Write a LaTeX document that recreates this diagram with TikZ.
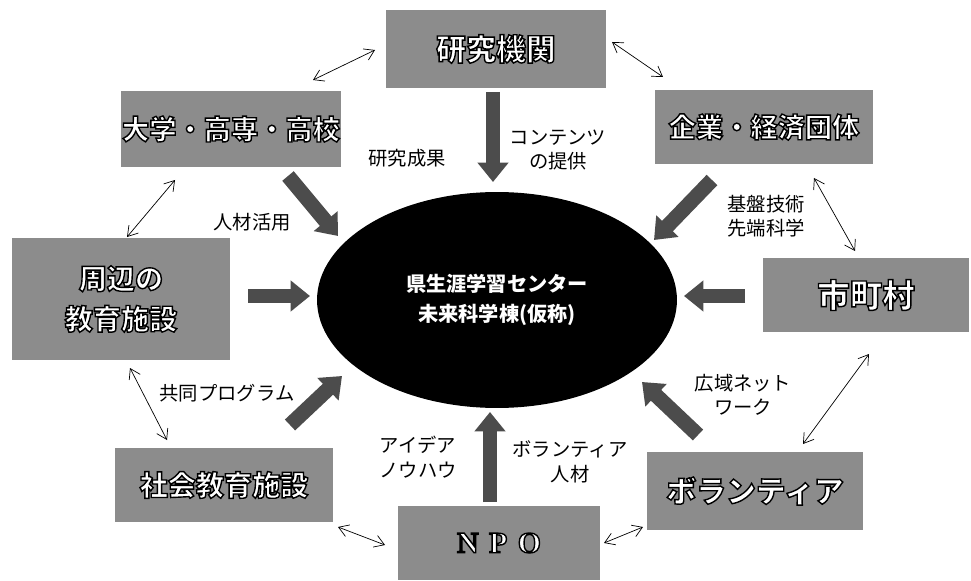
\documentclass[tikz,border=0pt]{standalone}
\usepackage{fontspec}
\setmainfont{Noto Sans CJK JP}
\newfontfamily\npofont{Liberation Serif}
\usetikzlibrary{arrows.meta,shapes.geometric}

% white letters with a black rim (fill + stroke text mode)
\newcommand{\hollow}[1]{\special{pdf:code q 2 Tr 0.8 w 1 g 0 G}#1\special{pdf:code Q}}

\begin{document}
\begin{tikzpicture}[x=0.02cm, y=-0.02cm,
  box/.style={fill=black!45, inner sep=0pt, align=center,
    font=\bfseries\fontsize{15.5}{21}\selectfont},
  hub/.style={ellipse, fill=black, text=white, inner sep=0pt, align=center,
    minimum width=7.2cm, minimum height=4.32cm,
    font=\bfseries\fontsize{11.5}{17}\selectfont},
  fat/.style={line width=8.5pt, draw=black!70,
    -{Triangle[length=11pt,width=17pt]}},
  link/.style={thin, {Straight Barb[length=5.5pt,width=7pt]}-{Straight Barb[length=5.5pt,width=7pt]}},
  lbl/.style={font=\fontsize{11}{14}\selectfont, align=center}]
  \useasboundingbox (0,0) rectangle (971,581);

  % the centre
  \node[hub] (hub) at (497,300) {県生涯学習センター\\未来科学棟(仮称)};

  % partners
  \node[box, minimum width=4.42cm, minimum height=1.56cm, font=\bfseries\fontsize{17}{21}\selectfont] (kenkyu) at (496,49) {\hollow{研究機関}};
  \node[box, minimum width=4.4cm, minimum height=1.54cm] (daigaku) at (231,129) {\hollow{大学・高専・高校}};
  \node[box, minimum width=4.36cm, minimum height=1.5cm] (kigyo) at (764,127) {\hollow{企業・経済団体}};
  \node[box, minimum width=4.36cm, minimum height=2.44cm, font=\bfseries\fontsize{16}{23}\selectfont] (shuhen) at (121,299) {\hollow{周辺の}\\\hollow{教育施設}};
  \node[box, minimum width=4.12cm, minimum height=1.48cm, font=\bfseries\fontsize{18.5}{21}\selectfont] (shichoson) at (866,295) {\hollow{市町村}};
  \node[box, minimum width=4.36cm, minimum height=1.5cm, font=\bfseries\fontsize{16}{21}\selectfont] (shakai) at (224,485) {\hollow{社会教育施設}};
  \node[box, minimum width=4.04cm, minimum height=1.48cm, font=\npofont\bfseries\fontsize{17}{21}\selectfont] (npo) at (499,543) {\hollow{N\hspace{0.35em}P\hspace{0.35em}O}};
  \node[box, minimum width=4.32cm, minimum height=1.56cm, font=\bfseries\fontsize{17}{21}\selectfont] (volunteer) at (755,491) {\hollow{ボランティア}};

  % fat arrows into the centre
  \coordinate (kenkyu-s) at (493,92);    \coordinate (kenkyu-e) at (493,182);
  \coordinate (daigaku-s) at (288,176);  \coordinate (daigaku-e) at (338,236);
  \coordinate (kigyo-s) at (712,180);    \coordinate (kigyo-e) at (654,240);
  \coordinate (shuhen-s) at (248,296);   \coordinate (shuhen-e) at (310,296);
  \coordinate (shichoson-s) at (745,296); \coordinate (shichoson-e) at (684,296);
  \coordinate (shakai-s) at (290,425);   \coordinate (shakai-e) at (342,376);
  \coordinate (npo-s) at (490,502);      \coordinate (npo-e) at (490,412);
  \coordinate (volunteer-s) at (698,435); \coordinate (volunteer-e) at (642,382);
  \foreach \n in {kenkyu,daigaku,kigyo,shuhen,shichoson,shakai,npo,volunteer}
    \draw[fat] (\n-s) -- (\n-e);

  % labels
  \node[lbl] (l1) at (407,158) {研究成果};
  \node[lbl] (l2) at (558,150) {コンテンツ\\の提供};
  \node[lbl] (l3) at (252,222) {人材活用};
  \node[lbl] (l4) at (766,216) {基盤技術\\先端科学};
  \node[lbl] (l5) at (227,393) {共同プログラム};
  \node[lbl] (l6) at (743,395) {広域ネット\\ワーク};
  \node[lbl] (l7) at (418,457) {アイデア\\ノウハウ};
  \node[lbl] (l8) at (570,462) {ボランティア\\人材};

  % links between partners
  \coordinate (a1) at (313,80);  \coordinate (a2) at (375,50);
  \coordinate (b1) at (612,42);  \coordinate (b2) at (663,77);
  \coordinate (c1) at (175,180); \coordinate (c2) at (127,237);
  \coordinate (d1) at (814,178); \coordinate (d2) at (855,251);
  \coordinate (e1) at (130,368); \coordinate (e2) at (167,440);
  \coordinate (f1) at (869,354); \coordinate (f2) at (803,444);
  \coordinate (g1) at (338,527); \coordinate (g2) at (385,545);
  \coordinate (h1) at (604,543); \coordinate (h2) at (643,527);
  \foreach \s/\t in {a1/a2,b1/b2,c1/c2,d1/d2,e1/e2,f1/f2,g1/g2,h1/h2}
    \draw[link] (\s) -- (\t);
\end{tikzpicture}
\end{document}
